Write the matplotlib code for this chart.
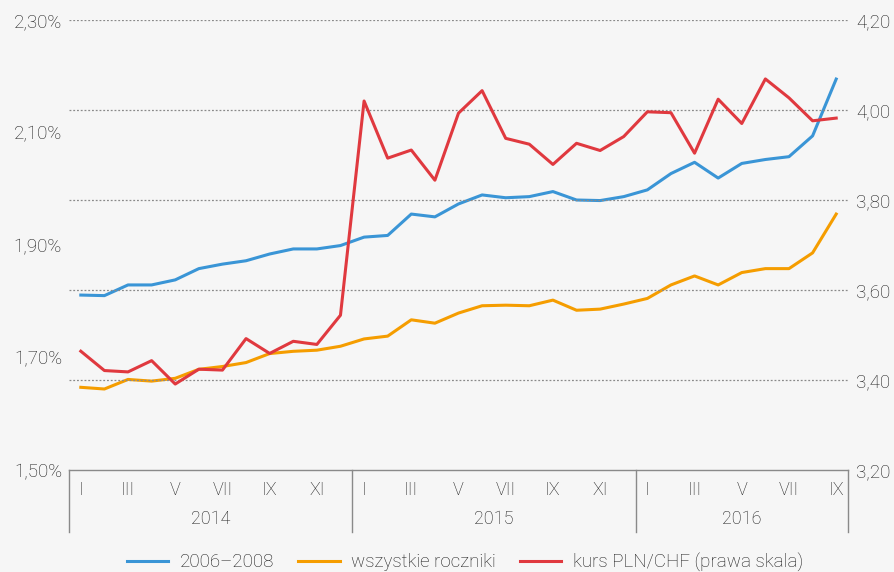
import numpy as np
import matplotlib.pyplot as plt
from matplotlib.lines import Line2D

plt.rcParams['font.family'] = ['Roboto', 'DejaVu Sans']
plt.rcParams['font.weight'] = 'light'

# miesiące I 2014 - IX 2016
months = ['I', 'II', 'III', 'IV', 'V', 'VI', 'VII', 'VIII', 'IX', 'X', 'XI', 'XII']
years = ['2014', '2015', '2016']
year_len = [12, 12, 9]

rocznik_2006_2008 = [1.811, 1.810, 1.829, 1.829, 1.838, 1.858, 1.866, 1.872, 1.884, 1.893, 1.893, 1.899,
                     1.914, 1.917, 1.955, 1.950, 1.973, 1.989, 1.984, 1.986, 1.995, 1.980, 1.979, 1.986,
                     1.998, 2.027, 2.047, 2.019, 2.045, 2.052, 2.057, 2.094, 2.195]
wszystkie = [1.647, 1.644, 1.661, 1.658, 1.663, 1.679, 1.684, 1.691, 1.707, 1.711, 1.713, 1.720,
             1.733, 1.738, 1.767, 1.761, 1.779, 1.792, 1.793, 1.792, 1.802, 1.784, 1.786, 1.795,
             1.805, 1.829, 1.845, 1.829, 1.851, 1.858, 1.858, 1.886, 1.955]
kurs_chf = [3.464, 3.421, 3.418, 3.443, 3.391, 3.424, 3.422, 3.492, 3.459, 3.486, 3.479, 3.544,
            4.020, 3.893, 3.911, 3.844, 3.993, 4.043, 3.937, 3.924, 3.879, 3.926, 3.910, 3.941,
            3.996, 3.994, 3.904, 4.024, 3.970, 4.069, 4.027, 3.976, 3.982]

blue = '#3a95d6'
orange = '#f59d00'
red = '#e0393f'
bg = '#f6f6f6'
txt = '#1a1a1a'

n = len(wszystkie)
x = np.arange(n)

fig = plt.figure(figsize=(8.95, 5.72), dpi=100, facecolor=bg)
ax = fig.add_axes([69/895, 1-470/572, (848-69)/895, 450/572])
ax.set_facecolor(bg)
ax2 = ax.twinx()

ax.set_xlim(-0.5, n - 0.5)
ax.set_ylim(1.50, 2.30)
ax2.set_ylim(3.20, 4.20)

# siatka wg prawej skali
for v in np.arange(3.40, 4.21, 0.20):
    ax2.axhline(v, color='#8a8a8a', lw=0.9, ls=(0, (1.5, 1.5)), zorder=0)

ax.plot(x, rocznik_2006_2008, color=blue, lw=2.2, zorder=3)
ax.plot(x, wszystkie, color=orange, lw=2.2, zorder=3)
ax2.plot(x, kurs_chf, color=red, lw=2.2, zorder=3)

for a in (ax, ax2):
    for s in a.spines.values():
        s.set_visible(False)
ax.spines['bottom'].set_visible(True)
ax.spines['bottom'].set_color('#8a8a8a')
ax.spines['bottom'].set_linewidth(1.0)

lt = [1.50, 1.70, 1.90, 2.10, 2.30]
ax.set_yticks(lt)
ax.set_yticklabels([f'{v:.2f}%'.replace('.', ',') for v in lt])
rt = [3.20, 3.40, 3.60, 3.80, 4.00, 4.20]
ax2.set_yticks(rt)
ax2.set_yticklabels([f'{v:.2f}'.replace('.', ',') for v in rt])
ax.tick_params(axis='y', length=0, pad=5, labelsize=13.5, labelcolor=txt)
ax2.tick_params(axis='y', length=0, pad=6, labelsize=13.5, labelcolor=txt)

# etykiety miesięcy (co drugi) i lat
labels = []
for y, k in zip(years, year_len):
    labels += months[:k]
ax.set_xticks(x[::2])
ax.set_xticklabels(labels[::2])
ax.tick_params(axis='x', length=0, pad=8, labelsize=13, labelcolor=txt)

trans = ax.get_xaxis_transform()
start = 0
bounds = [-0.5]
for y, k in zip(years, year_len):
    mid = start + (k - 1) / 2
    ax.text(mid, -0.108, y, transform=trans, ha='center', va='center', fontsize=13, color=txt)
    start += k
    bounds.append(start - 0.5)
for b in bounds:
    ax.add_line(Line2D([b, b], [0, -0.138], transform=trans, color='#8a8a8a', lw=1.0, clip_on=False))

handles = [Line2D([], [], color=blue, lw=2.2),
           Line2D([], [], color=orange, lw=2.2),
           Line2D([], [], color=red, lw=2.2)]
fig.legend(handles, ['2006–2008', 'wszystkie roczniki', 'kurs PLN/CHF (prawa skala)'],
           loc='center', bbox_to_anchor=(465/895, 1-562/572), ncol=3, frameon=False,
           fontsize=13.5, handlelength=2.2, columnspacing=1.3, handletextpad=0.6,
           labelcolor=txt)

fig.savefig('out.png', dpi=100, facecolor=bg)
